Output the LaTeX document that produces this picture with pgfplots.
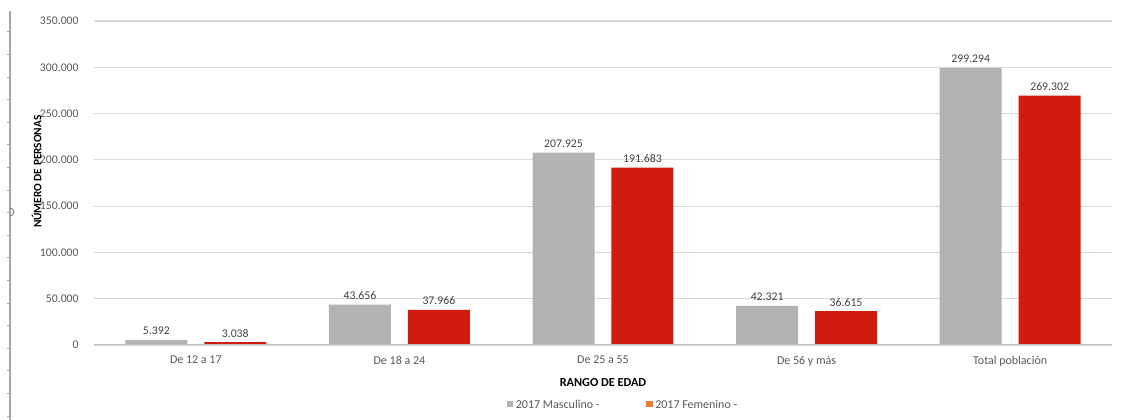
\documentclass[border=0pt]{standalone}
\usepackage{pgfplots}
\pgfplotsset{compat=1.18}
\usepackage{fontspec}
\setmainfont{Carlito}

\definecolor{barGray}{HTML}{B3B3B3}
\definecolor{barRed}{HTML}{CF1C0E}
\definecolor{legOrange}{HTML}{ED7D31}
\definecolor{gridGray}{HTML}{D9D9D9}
\definecolor{tickText}{HTML}{595959}
\definecolor{valText}{HTML}{404040}

\begin{document}
\begin{tikzpicture}
\useasboundingbox (0,0) rectangle (841.5pt,315pt);
% side rule
\draw[color=black!35, line width=1.1pt] (7.5pt,0pt) -- (7.5pt,307pt);
\foreach \k in {0,...,17} {
  \draw[color=black!35, line width=0.6pt] (5.5pt,{3pt+\k*16.95pt}) -- (7.5pt,{3pt+\k*16.95pt});
}
\draw[color=black!55, line width=0.6pt] (7.5pt,159pt) arc[start angle=90, end angle=-90, radius=3pt];

\begin{axis}[
  at={(70.5pt,56.25pt)}, anchor=south west,
  width=763.5pt, height=243pt, scale only axis,
  xmin=-0.5, xmax=4.5, ymin=0, ymax=350000,
  axis line style={draw=none},
  scaled y ticks=false,
  /pgf/number format/assume math mode=true,
  xtick={0,1,2,3,4},
  xticklabels={De 12 a 17, De 18 a 24, De 25 a 55, De 56 y más, Total población},
  ytick={0,50000,100000,150000,200000,250000,300000,350000},
  yticklabels={0,50.000,100.000,150.000,200.000,250.000,300.000,350.000},
  tick style={draw=none},
  ymajorgrids, grid style={color=gridGray, line width=0.8pt},
  xticklabel style={font=\fontsize{9}{10}\selectfont, text=tickText, yshift=-0.5pt},
  yticklabel style={font=\fontsize{8.8}{10}\selectfont, text=tickText, xshift=-8pt},
  xlabel={RANGO DE EDAD},
  xlabel style={font=\fontsize{9.2}{11}\selectfont\bfseries, yshift=-2pt},
  ylabel={NÚMERO DE PERSONAS},
  ylabel style={at={(axis description cs:0,0.535)}, yshift=43pt, anchor=center,
    font=\fontsize{8.5}{10}\selectfont\bfseries},
  ybar, bar width=46.5pt,
  nodes near coords={\pgfmathprintnumber[fixed, 1000 sep={.}, precision=0, assume math mode=true]{\pgfplotspointmeta}},
  every node near coord/.append style={font=\fontsize{8.8}{10}\selectfont, text=valText, inner sep=3.5pt},
  point meta=explicit,
  legend style={at={(axis description cs:0.52,-0.185)}, anchor=center, draw=none,
    font=\fontsize{9}{10}\selectfont, text=tickText, legend columns=2,
    /tikz/every even column/.append style={column sep=33pt}},
  legend cell align=left,
  legend image code/.code={\fill[#1] (0pt,-1.5pt) rectangle (4.8pt,3.3pt);},
]
\addplot[fill=barGray, draw=none, bar shift=-29.6pt, forget plot]
  coordinates {(0,5392)[5392] (1,43656)[43656] (2,207925)[207925] (3,42321)[42321] (4,299294)[299294]};
\addplot[fill=barRed, draw=none, bar shift=29.6pt, forget plot]
  coordinates {(0,3038)[3038] (1,37966)[37966] (2,191683)[191683] (3,36615)[36615] (4,269302)[269302]};
\draw[color=black!25, line width=0.8pt] (axis cs:-0.5,0) -- (axis cs:4.5,0);
\addlegendimage{fill=barGray, draw=none}
\addlegendentry{2017 Masculino -}
\addlegendimage{fill=legOrange, draw=none}
\addlegendentry{2017 Femenino -}
\end{axis}
\end{tikzpicture}
\end{document}
